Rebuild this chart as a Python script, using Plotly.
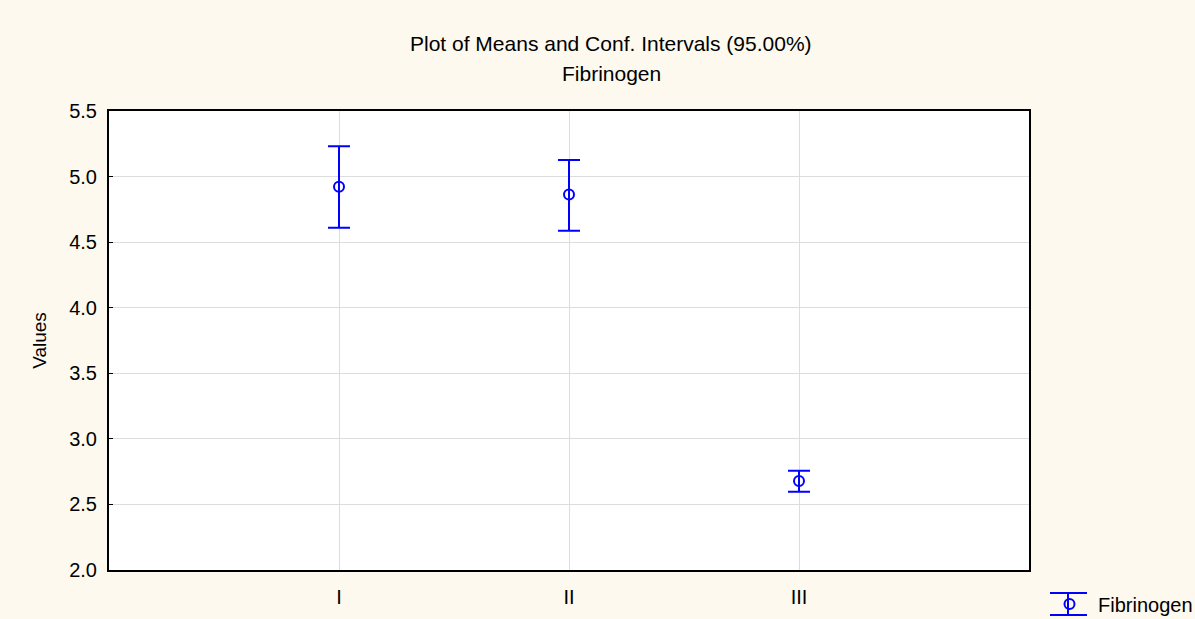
import plotly.graph_objects as go

categories = ["I", "II", "III"]
x_pos = [1, 2, 3]
means = [4.923, 4.864, 2.678]
upper = [5.231, 5.126, 2.756]
lower = [4.610, 4.587, 2.596]
series_name = "Fibrinogen"
title_lines = ["Plot of Means and Conf. Intervals (95.00%)", "Fibrinogen"]

err_plus = [u - m for u, m in zip(upper, means)]
err_minus = [m - l for m, l in zip(means, lower)]

W, H = 1195, 619
L, R, T, B = 109, 166, 111, 49
PW, PH = W - L - R, H - T - B


def px_x(p):
    return (p - L) / PW


def px_y(p):
    return (H - B - p) / PH


blue = "#0000FF"
font = "Liberation Sans, Arial, sans-serif"

fig = go.Figure()
fig.add_trace(go.Scatter(
    x=x_pos, y=means, mode="markers", name=series_name, showlegend=True,
    marker=dict(symbol="circle-open", size=10, color=blue, line=dict(width=2, color=blue)),
    error_y=dict(type="data", symmetric=False, array=err_plus, arrayminus=err_minus,
                 color=blue, thickness=2, width=11),
))

annotations = []
for txt, py in zip(title_lines, [44, 74]):
    annotations.append(dict(text=txt, xref="paper", yref="paper", x=px_x(611), y=px_y(py),
                            xanchor="center", yanchor="middle", showarrow=False,
                            font=dict(size=21, family=font, color="#000000")))

shapes = [
    dict(type="line", xref="paper", yref="paper", x0=px_x(1050), x1=px_x(1087),
         y0=px_y(593), y1=px_y(593), line=dict(color=blue, width=2)),
    dict(type="line", xref="paper", yref="paper", x0=px_x(1050), x1=px_x(1087),
         y0=px_y(615), y1=px_y(615), line=dict(color=blue, width=2)),
    dict(type="line", xref="paper", yref="paper", x0=px_x(1068), x1=px_x(1068),
         y0=px_y(593), y1=px_y(615), line=dict(color=blue, width=2)),
]

fig.update_layout(
    width=W, height=H,
    paper_bgcolor="#FDF9EE", plot_bgcolor="#FFFFFF",
    margin=dict(l=L, r=R, t=T, b=B, autoexpand=False),
    font=dict(family=font, size=20, color="#000000"),
    showlegend=True,
    legend=dict(x=px_x(1041), y=px_y(604), xanchor="left", yanchor="middle",
                bgcolor="rgba(0,0,0,0)", font=dict(size=20), itemwidth=47,
                borderwidth=0),
    annotations=annotations,
    shapes=shapes,
    xaxis=dict(range=[0, 4], tickvals=x_pos, ticktext=categories,
               showgrid=True, gridcolor="#DDDDDD", gridwidth=1,
               showline=True, linecolor="#000000", linewidth=2, mirror=True,
               ticks="", zeroline=False, ticklabelstandoff=8,
               tickfont=dict(size=20)),
    yaxis=dict(range=[2.0, 5.5], dtick=0.5, tickformat=".1f",
               title=dict(text="Values", font=dict(size=19), standoff=18),
               showgrid=True, gridcolor="#DDDDDD", gridwidth=1,
               showline=True, linecolor="#000000", linewidth=2, mirror=True,
               ticks="inside", ticklen=4, tickcolor="#000000", zeroline=False,
               ticklabelstandoff=6,
               tickfont=dict(size=20)),
)

fig.write_html("out.html", config={"displayModeBar": False},
               post_script="document.body.style.margin='0';document.body.style.overflow='hidden';")
